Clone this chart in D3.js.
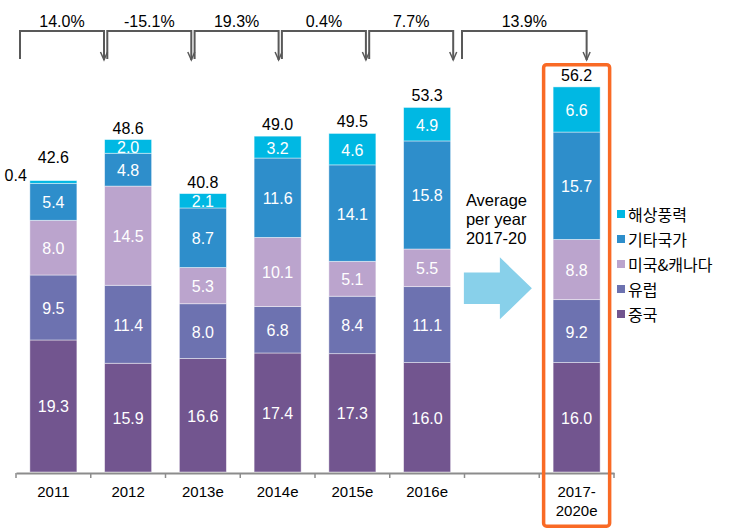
<!DOCTYPE html>
<html><head><meta charset="utf-8">
<script src="https://cdn.jsdelivr.net/npm/d3@7"></script>
<style>body{margin:0;background:#fff} svg{display:block}</style>
</head><body><svg id="chart" width="736" height="530"></svg>
<script>
const categories = ['2011','2012','2013e','2014e','2015e','2016e','','2017-2020e'];
const seriesNames = ['중국','유럽','미국&캐나다','기타국가','해상풍력'];
const china    = [19.3,15.9,16.6,17.4,17.3,16.0,null,16.0];
const europe   = [9.5,11.4,8.0,6.8,8.4,11.1,null,9.2];
const usCanada = [8.0,14.5,5.3,10.1,5.1,5.5,null,8.8];
const others   = [5.4,4.8,8.7,11.6,14.1,15.8,null,15.7];
const offshore = [0.4,2.0,2.1,3.2,4.6,4.9,null,6.6];
const totals   = [42.6,48.6,40.8,49.0,49.5,53.3,null,56.2];
const growthLabels = ['14.0%','-15.1%','19.3%','0.4%','7.7%','13.9%'];
const noteLines = ['Average','per year','2017-20'];
const colors = ['#72558F','#6D72B0','#BBA4CD','#2E8ECB','#00B8E3'];

const seriesValues = [china, europe, usCanada, others, offshore];
const latin = "'Liberation Sans', Arial, sans-serif";
const korean = "'Noto Sans CJK KR', 'Noto Sans', sans-serif";

const svg = d3.select('#chart');
const x = d3.scaleBand().domain(categories).range([16, 614]).paddingInner(0.371).paddingOuter(0.1855);
const y = d3.scaleLinear().domain([0, 60]).range([472, 61.6]);
const bw = x.bandwidth();

const rows = categories.map((c, i) => {
  const r = {cat: c, total: totals[i]};
  seriesNames.forEach((s, k) => r[s] = seriesValues[k][i]);
  return r;
}).filter(r => r.total != null);

const stack = d3.stack().keys(seriesNames);
const stacked = stack(rows);

// bars
const g = svg.append('g');
stacked.forEach((layer, k) => {
  const lg = g.append('g');
  lg.selectAll('rect').data(layer).join('rect')
    .attr('x', d => x(d.data.cat))
    .attr('y', d => y(d[1]))
    .attr('width', bw)
    .attr('height', d => y(d[0]) - y(d[1]))
    .attr('fill', colors[k])
    .attr('stroke', 'rgba(255,255,255,0.55)')
    .attr('stroke-width', 0.8);
  lg.selectAll('text').data(layer).join('text')
    .attr('x', d => (d[1]-d[0]) >= 1 ? x(d.data.cat) + bw/2 : x(d.data.cat) - 3)
    .attr('y', d => (d[1]-d[0]) >= 1 ? (y(d[0]) + y(d[1]))/2 + 1 : y(d[1]))
    .attr('text-anchor', d => (d[1]-d[0]) >= 1 ? 'middle' : 'end')
    .attr('dominant-baseline', d => (d[1]-d[0]) >= 1 ? 'central' : 'auto')
    .attr('fill', d => (d[1]-d[0]) >= 1 ? '#fff' : '#000')
    .style('font-family', latin).style('font-size', '16px')
    .text(d => d3.format('.1f')(d[1]-d[0]));
});

// totals
const topLayer = stacked[stacked.length - 1];
svg.append('g').selectAll('text').data(topLayer).join('text')
  .attr('x', d => x(d.data.cat) + bw/2)
  .attr('y', d => y(d[1]) - ((d[1]-d[0]) < 1 ? 18 : 6))
  .attr('text-anchor', 'middle')
  .style('font-family', latin).style('font-size', '16px').attr('fill', '#000')
  .text(d => d3.format('.1f')(d.data.total));

// axis
const axis = d3.axisBottom(x).tickSize(0).tickPadding(12).tickFormat(() => '');
const ag = svg.append('g').attr('transform', `translate(0,${y(0)+1})`).call(axis);
ag.select('.domain').attr('stroke', '#8C8C8C').attr('stroke-width', 2);
const bounds = categories.map(c => x(c) - (x.step() - bw)/2).concat([x.range()[1]]);
ag.selectAll('line.bt').data(bounds).join('line').attr('class','bt')
  .attr('x1', d => d).attr('x2', d => d).attr('y1', 0).attr('y2', 5)
  .attr('stroke', '#8C8C8C').attr('stroke-width', 1.5);
ag.selectAll('.tick').each(function(c) {
  const t = d3.select(this);
  t.select('text').remove();
  const lines = c.includes('-') ? [c.slice(0, c.indexOf('-')+1), c.slice(c.indexOf('-')+1)] : [c];
  lines.forEach((ln, j) => {
    t.append('text').attr('x', 0).attr('y', 24 + j*18.5)
      .attr('text-anchor', 'middle').attr('fill', '#000')
      .style('font-family', latin).style('font-size', '15px').text(ln);
  });
});

// growth brackets
const bx = d3.scaleLinear().domain([0, 5]).range([20, 456.5]);
const lastCat = categories[categories.length - 1];
const brackets = growthLabels.map((lab, i) => {
  if (i < 5) return {lab, l: bx(i), r: bx(i) + 84};
  return {lab, l: bx(5) + 5.5, r: x(lastCat) + bw/2 + 10};
});
const bg = svg.append('g');
const topY = 31, botY = 60;
brackets.forEach(b => {
  bg.append('path')
    .attr('d', `M${b.l},${botY-1}V${topY}H${b.r}V${botY}`)
    .attr('fill', 'none').attr('stroke', '#595959').attr('stroke-width', 2);
  bg.append('path')
    .attr('d', `M${b.r-3.5},${botY-8}L${b.r},${botY}L${b.r+3.5},${botY-8}`)
    .attr('fill', 'none').attr('stroke', '#595959').attr('stroke-width', 1.5);
  bg.append('text').attr('x', (b.l + b.r)/2).attr('y', 27)
    .attr('text-anchor', 'middle').attr('fill', '#000')
    .style('font-family', latin).style('font-size', '16px').text(b.lab);
});

// note + arrow
const gapCat = categories[6];
const cx = x(gapCat) + bw/2;
const ay = 288.3;
svg.append('path')
  .attr('d', `M${cx-38},${ay-15.7}H${cx-2}V${ay-31}L${cx+30},${ay}L${cx-2},${ay+31}V${ay+15.7}H${cx-38}Z`)
  .attr('fill', '#88D0EA');
svg.append('g').selectAll('text').data(noteLines).join('text')
  .attr('x', cx - 36).attr('y', (d, i) => 206 + i*19)
  .attr('fill', '#000').style('font-family', latin).style('font-size', '16.5px')
  .text(d => d);

// highlight box
svg.append('rect')
  .attr('x', x(lastCat) - 9.5).attr('y', 64.7)
  .attr('width', bw + 19).attr('height', 461.5)
  .attr('rx', 3).attr('fill', 'none')
  .attr('stroke', '#F96A25').attr('stroke-width', 3.5);

// legend
const legendOrder = seriesNames.map((s, k) => ({s, c: colors[k]})).reverse();
const lgd = svg.append('g').attr('transform', 'translate(617,214)');
const items = lgd.selectAll('g').data(legendOrder).join('g')
  .attr('transform', (d, i) => `translate(0,${i*25})`);
items.append('rect').attr('x', 0).attr('y', -4).attr('width', 8).attr('height', 8).attr('fill', d => d.c);
items.append('text').attr('x', 11).attr('y', 0).attr('dominant-baseline', 'central')
  .attr('fill', '#000').style('font-family', korean).style('font-size', '16px').text(d => d.s);
</script>
</body></html>
